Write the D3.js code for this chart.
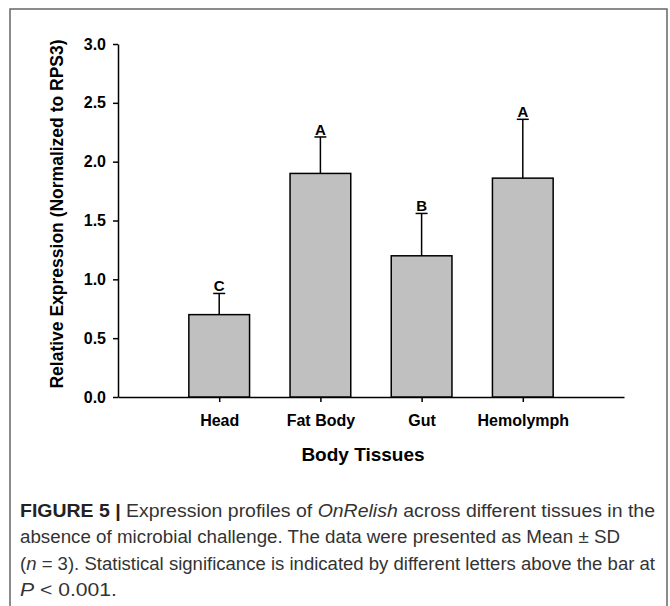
<!DOCTYPE html>
<html>
<head>
<meta charset="utf-8">
<script src="https://cdn.jsdelivr.net/npm/d3@7"></script>
<style>
  body { margin: 0; background: #fff; }
  svg { display: block; }
  .axis text { font-family: "Liberation Sans", Arial, sans-serif; font-weight: bold; fill: #000; }
  .axis path, .axis line { stroke: #000; stroke-width: 1.5; }
</style>
</head>
<body>
<svg id="chart" width="670" height="606"></svg>
<script>
const tissues = ["Head", "Fat Body", "Gut", "Hemolymph"];
const means = [0.70, 1.90, 1.20, 1.86];
const sds = [0.18, 0.31, 0.36, 0.50];
const letters = ["C", "A", "B", "A"];
const yTicks = [0, 0.5, 1.0, 1.5, 2.0, 2.5, 3.0];

const captionLines = [
  [{ t: "FIGURE 5 | ", b: true }, { t: "Expression profiles of " }, { t: "OnRelish", i: true }, { t: " across different tissues in the" }],
  [{ t: "absence of microbial challenge. The data were presented as Mean \u00B1 SD" }],
  [{ t: "(" }, { t: "n", i: true }, { t: " = 3). Statistical significance is indicated by different letters above the bar at" }],
  [{ t: "P", i: true }, { t: " < 0.001." }]
];
const captionWidths = [635, 600, 635, 97];

const svg = d3.select("#chart");
const plotLeft = 118, plotRight = 624, plotTop = 44, plotBottom = 397;

// --- Frame around the figure
svg.append("path")
  .attr("d", `M10,606 V9 H667 V606`)
  .attr("fill", "none")
  .attr("stroke", "#666")
  .attr("stroke-width", 1.5);

// --- Scales
const x = d3.scalePoint().domain(tissues).range([plotLeft, plotRight]).padding(1);
const y = d3.scaleLinear().domain([0, 3]).range([plotBottom, plotTop]);
const barW = x.step() * 0.6;

// --- Axes
svg.append("g")
  .attr("class", "axis")
  .attr("transform", `translate(${plotLeft},0)`)
  .call(d3.axisLeft(y).tickValues(yTicks).tickFormat(d3.format(".1f")).tickSize(5).tickSizeOuter(0).tickPadding(7))
  .selectAll("text").style("font-size", "16px");

svg.append("g")
  .attr("class", "axis")
  .attr("transform", `translate(0,${plotBottom})`)
  .call(d3.axisBottom(x).tickSize(5).tickSizeOuter(0).tickPadding(13))
  .selectAll("text").style("font-size", "16px");

// --- Bars
svg.selectAll(".bar")
  .data(tissues)
  .enter()
  .append("rect")
  .attr("class", "bar")
  .attr("x", d => x(d) - barW / 2)
  .attr("y", (d, i) => y(means[i]))
  .attr("width", barW)
  .attr("height", (d, i) => y(0) - y(means[i]))
  .attr("fill", "#c0c0c0")
  .attr("stroke", "#000")
  .attr("stroke-width", 1.5);

// --- Error bars (upper only)
const err = svg.selectAll(".err")
  .data(tissues)
  .enter()
  .append("g")
  .attr("class", "err");

err.append("line")
  .attr("x1", d => x(d)).attr("x2", d => x(d))
  .attr("y1", (d, i) => y(means[i]))
  .attr("y2", (d, i) => y(means[i] + sds[i]))
  .attr("stroke", "#000").attr("stroke-width", 1.5);

err.append("line")
  .attr("x1", d => x(d) - 6).attr("x2", d => x(d) + 6)
  .attr("y1", (d, i) => y(means[i] + sds[i]))
  .attr("y2", (d, i) => y(means[i] + sds[i]))
  .attr("stroke", "#000").attr("stroke-width", 1.5);

// --- Significance letters
svg.selectAll(".letter")
  .data(tissues)
  .enter()
  .append("text")
  .attr("class", "letter")
  .attr("x", d => x(d))
  .attr("y", (d, i) => y(means[i] + sds[i]) - 2)
  .attr("text-anchor", "middle")
  .style("font-family", "'Liberation Sans', Arial, sans-serif")
  .style("font-weight", "bold")
  .style("font-size", "15px")
  .text((d, i) => letters[i]);

// --- Axis titles
svg.append("text")
  .attr("transform", `translate(63,214) rotate(-90)`)
  .attr("text-anchor", "middle")
  .style("font-family", "'Liberation Sans', Arial, sans-serif")
  .style("font-weight", "bold")
  .style("font-size", "17.5px")
  .text("Relative Expression (Normalized to RPS3)");

svg.append("text")
  .attr("x", 363)
  .attr("y", 461)
  .attr("text-anchor", "middle")
  .style("font-family", "'Liberation Sans', Arial, sans-serif")
  .style("font-weight", "bold")
  .style("font-size", "19px")
  .text("Body Tissues");

// --- Caption, one text element per line stretched to the reference width
captionLines.forEach((line, li) => {
  const t = svg.append("text")
    .attr("x", 20)
    .attr("y", 517 + li * 26.3)
    .attr("textLength", captionWidths[li])
    .attr("lengthAdjust", "spacingAndGlyphs")
    .style("font-family", "'Liberation Sans', Arial, sans-serif")
    .style("font-size", "17.5px")
    .style("fill", "#333");
  line.forEach(seg => {
    const ts = t.append("tspan").text(seg.t);
    if (seg.b) ts.style("font-weight", "bold").style("fill", "#222");
    if (seg.i) ts.style("font-style", "italic");
  });
});
</script>
</body>
</html>
